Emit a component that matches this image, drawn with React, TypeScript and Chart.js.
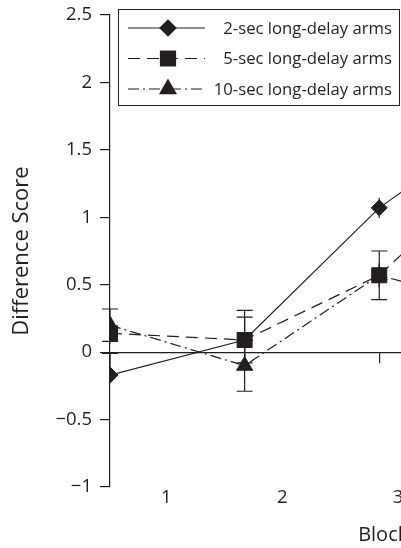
import React, { useEffect, useRef } from 'react';
import { Chart, registerables } from 'chart.js';
import { drawPoint } from 'chart.js/helpers';

Chart.register(...registerables);

const blocks = [1, 2, 3, 4];
const blockLabels = ['1', '2', '3', '4'];
const seriesNames = ['2-sec long-delay arms', '5-sec long-delay arms', '10-sec long-delay arms'];
const twoSec = [-0.17, 0.09, 1.07, 1.78];
const fiveSec = [0.14, 0.09, 0.57, 1.5];
const tenSec = [0.2, -0.1, 0.57, 0.3];
const twoSecErrUp = [0.16, 0.22, 0.075, 0.1];
const twoSecErrDown = [0, 0.22, 0.075, 0.1];
const fiveSecErr = [0.08, 0.17, 0.18, 0.15];
const tenSecErr = [0.12, 0.19, 0.09, 0.15];
const yTicks = [-1, -0.5, 0, 0.5, 1, 1.5, 2, 2.5];

const INK = '#231f20';
const FONT = "'Open Sans', sans-serif";

const toPoints = (vals: number[]) => blocks.map((b, i) => ({ x: b, y: vals[i] }));

const errorBarPlugin = {
  id: 'errorBars',
  beforeDatasetsDraw(chart: any) {
    const { ctx } = chart;
    const xs = chart.scales.x;
    const ys = chart.scales.y;
    ctx.save();
    ctx.strokeStyle = INK;
    ctx.lineWidth = 1.2;
    ctx.setLineDash([]);
    chart.data.datasets.forEach((ds: any) => {
      const r = ds.pointRadius;
      ds.data.forEach((p: any, i: number) => {
        const up = ds.errUp[i];
        const dn = ds.errDown[i];
        const px = xs.getPixelForValue(p.x);
        const py = ys.getPixelForValue(p.y);
        const yt = ys.getPixelForValue(p.y + up);
        const yb = ys.getPixelForValue(p.y - dn);
        ctx.beginPath();
        ctx.moveTo(px, yt);
        ctx.lineTo(px, yb);
        if (up > 0 && py - yt > r + 4) {
          ctx.moveTo(px - 8, yt);
          ctx.lineTo(px + 8, yt);
        }
        if (dn > 0 && yb - py > r + 4) {
          ctx.moveTo(px - 8, yb);
          ctx.lineTo(px + 8, yb);
        }
        ctx.stroke();
      });
    });
    ctx.restore();
  },
};

const boxLegendPlugin = {
  id: 'boxLegend',
  afterDraw(chart: any) {
    const { ctx } = chart;
    ctx.save();
    ctx.fillStyle = '#ffffff';
    ctx.fillRect(118.5, 9.5, 281, 96);
    ctx.strokeStyle = INK;
    ctx.lineWidth = 1;
    ctx.strokeRect(118.5, 9.5, 281, 96);
    chart.data.datasets.forEach((ds: any, i: number) => {
      const ry = 28 + i * 30.5;
      ctx.strokeStyle = INK;
      ctx.lineWidth = 1.2;
      ctx.setLineDash(ds.borderDash || []);
      ctx.beginPath();
      ctx.moveTo(128, ry);
      ctx.lineTo(205, ry);
      ctx.stroke();
      ctx.setLineDash([]);
      ctx.fillStyle = INK;
      drawPoint(ctx, { pointStyle: ds.pointStyle, radius: ds.pointRadius, rotation: 0, borderWidth: 1 } as any, 168, ry);
      ctx.fillStyle = INK;
      ctx.font = `16.7px ${FONT}`;
      ctx.textBaseline = 'middle';
      ctx.textAlign = 'right';
      ctx.fillText(ds.label, 392, ry + 1);
    });
    ctx.restore();
  },
};

export default function App() {
  const ref = useRef<HTMLCanvasElement | null>(null);

  useEffect(() => {
    if (!ref.current) return;
    const common = {
      borderColor: INK,
      backgroundColor: INK,
      pointBackgroundColor: INK,
      pointBorderColor: INK,
      borderWidth: 1.2,
      pointBorderWidth: 1,
      xAxisID: 'x',
      yAxisID: 'y',
      tension: 0,
    };
    const chart = new Chart(ref.current, {
      type: 'line',
      data: {
        datasets: [
          {
            ...common,
            label: seriesNames[0],
            data: toPoints(twoSec),
            pointStyle: 'rectRot',
            pointRadius: 8,
            borderDash: [],
            errUp: twoSecErrUp,
            errDown: twoSecErrDown,
          } as any,
          {
            ...common,
            label: seriesNames[1],
            data: toPoints(fiveSec),
            pointStyle: 'rect',
            pointRadius: 10.6,
            borderDash: [12, 7],
            errUp: fiveSecErr,
            errDown: fiveSecErr,
          } as any,
          {
            ...common,
            label: seriesNames[2],
            data: toPoints(tenSec),
            pointStyle: 'triangle',
            pointRadius: 9.2,
            borderDash: [11, 4, 2, 4],
            errUp: tenSecErr,
            errDown: tenSecErr,
          } as any,
        ],
      },
      options: {
        animation: false,
        responsive: false,
        layout: { padding: { top: 15, right: 6, left: 0, bottom: 0 } },
        plugins: {
          legend: { display: false },
          tooltip: { enabled: false },
        },
        scales: {
          x: {
            type: 'linear',
            min: 1,
            max: 5.059,
            position: { y: 0 } as any,
            afterBuildTicks: (s: any) => {
              s.ticks = blocks.map((v) => ({ value: v }));
            },
            ticks: { display: false },
            grid: { drawOnChartArea: false, drawTicks: true, tickLength: 10, color: INK, lineWidth: 1.2 },
            border: { color: INK, width: 1.2 },
            afterFit: (s: any) => {
              s.paddingLeft = 0;
              s.paddingRight = 0;
              s.paddingTop = 0;
              s.paddingBottom = 0;
            },
          },
          x2: {
            type: 'linear',
            position: 'bottom',
            min: 0.513,
            max: 5.231,
            afterBuildTicks: (s: any) => {
              s.ticks = blocks.map((v) => ({ value: v }));
            },
            ticks: {
              callback: (_v: any, i: number) => blockLabels[i],
              font: { family: FONT, size: 18.5 },
              color: INK,
              padding: 0,
              maxRotation: 0,
            },
            grid: { display: false, drawTicks: false },
            border: { display: false },
            title: {
              display: true,
              text: 'Block',
              font: { family: FONT, size: 20 },
              color: INK,
              padding: { top: 0, bottom: 1 },
            },
            afterFit: (s: any) => {
              s.height = 61;
              s.paddingLeft = 0;
              s.paddingRight = 0;
              s.paddingTop = 0;
              s.paddingBottom = 0;
            },
          },
          y: {
            type: 'linear',
            min: -1,
            max: 2.5,
            afterBuildTicks: (s: any) => {
              s.ticks = yTicks.map((v) => ({ value: v }));
            },
            ticks: {
              callback: (v: any) => (v < 0 ? '\u2212' + String(Math.abs(v)) : String(v)),
              font: { family: FONT, size: 18.5 },
              color: INK,
              padding: 8,
            },
            grid: { drawOnChartArea: false, tickLength: 10, color: INK, lineWidth: 1.2 },
            border: { color: INK, width: 1.2 },
            title: {
              display: true,
              text: 'Difference Score',
              font: { family: FONT, size: 22 },
              color: INK,
              padding: { top: 9, bottom: 0 },
            },
            afterFit: (s: any) => {
              s.width = 110;
              s.paddingLeft = 0;
              s.paddingRight = 0;
              s.paddingTop = 0;
              s.paddingBottom = 0;
            },
          },
        },
      } as any,
      plugins: [errorBarPlugin, boxLegendPlugin],
    });
    return () => chart.destroy();
  }, []);

  return (
    <div
      style={{
        position: 'fixed',
        left: 0,
        top: 0,
        width: 401,
        height: 548,
        overflow: 'hidden',
        background: '#ffffff',
      }}
    >
      <canvas ref={ref} width={668} height={548} style={{ display: 'block', width: 668, height: 548 }} />
    </div>
  );
}
